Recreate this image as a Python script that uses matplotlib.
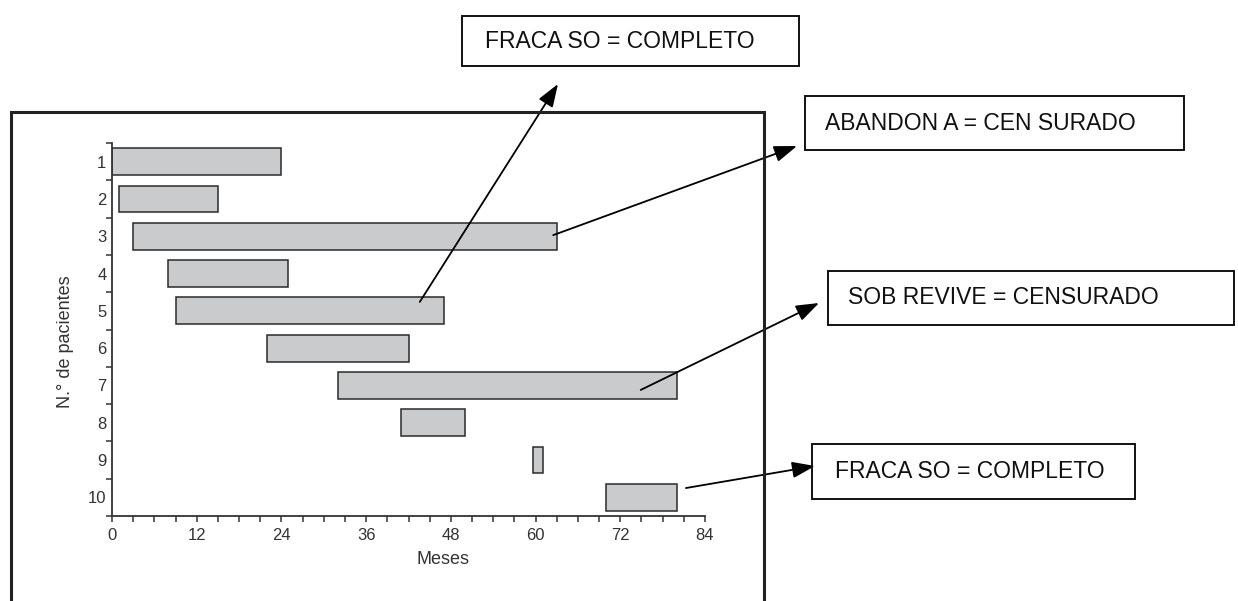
import matplotlib
matplotlib.use("Agg")
import matplotlib.pyplot as plt
from matplotlib.patches import Rectangle
import numpy as np

plt.rcParams['font.family'] = ['Liberation Sans', 'DejaVu Sans']

# ---- data ----
patients = [1, 2, 3, 4, 5, 6, 7, 8, 9, 10]
start_month = [0, 1, 3, 8, 9, 22, 32, 41, 59.7, 70]
end_month = [24, 15, 63, 25, 47, 42, 80, 50, 61, 80]
x_ticks = [0, 12, 24, 36, 48, 60, 72, 84]
x_label = "Meses"
y_label = "N.° de pacientes"

box_texts = ["FRACA SO = COMPLETO", "ABANDON A = CEN SURADO",
             "SOB REVIVE = CENSURADO", "FRACA SO = COMPLETO"]
# arrow start points in data coordinates (month, patient row)
arrow_from = [(43.6, 4.76), (62.5, 2.97), (74.9, 7.12), (81.3, 9.75)]

# ---- layout (pixels) ----
W, H = 1238, 601
def P(x, y):
    return (x / W, 1 - y / H)

fig = plt.figure(figsize=(W / 100, H / 100), dpi=100)
ax = fig.add_axes([112 / W, 1 - 516 / H, (705 - 112) / W, (516 - 143) / H])

widths = [e - s for s, e in zip(start_month, end_month)]
ax.barh(patients, widths, left=start_month, height=0.72,
        color='#c9cbcd', edgecolor='#2a2a2a', linewidth=1.1, zorder=2)

ax.set_xlim(0, 84)
ax.set_ylim(10.5, 0.5)
ax.set_xticks(x_ticks)
ax.set_xticks(np.arange(0, 85, 3), minor=True)
ax.set_yticks(patients)
ax.set_yticks(np.arange(0.5, 11, 1), minor=True)

for s in ['top', 'right']:
    ax.spines[s].set_visible(False)
for s in ['left', 'bottom']:
    ax.spines[s].set_color('#333333')
    ax.spines[s].set_linewidth(1.3)

ax.tick_params(axis='x', which='both', direction='out', length=4.5, width=1.1,
               color='#333333', labelsize=12, labelcolor='#333333', pad=4)
ax.tick_params(axis='y', which='major', length=0, labelsize=12,
               labelcolor='#333333', pad=4)
ax.tick_params(axis='y', which='minor', direction='out', length=4.3, width=1.1,
               color='#333333')

ax.set_xlabel(x_label, fontsize=13, color='#333333')
ax.xaxis.set_label_coords((443 - 112) / 593, -(551 - 516) / 373)
ax.set_ylabel(y_label, fontsize=13, color='#333333')
ax.yaxis.set_label_coords((74 - 112) / 593, 1 - (342 - 143) / 373)

# ---- outer frame ----
fig.patches.append(Rectangle(P(11, 700), (764 - 11) / W, (700 - 112) / H,
                             transform=fig.transFigure, fill=False,
                             edgecolor='#222222', linewidth=2.2))

# ---- annotation boxes ----
boxes = [(462, 16, 799, 66, 485), (805, 96, 1184, 150, 825),
         (828, 271, 1234, 325, 848), (812, 444, 1135, 499, 835)]
tips = [(558, 84), (797, 146), (819, 303), (815, 466)]

for (x0, y0, x1, y1, tx), txt in zip(boxes, box_texts):
    fig.patches.append(Rectangle(P(x0, y1), (x1 - x0) / W, (y1 - y0) / H,
                                 transform=fig.transFigure, fill=False,
                                 edgecolor='#111111', linewidth=1.4))
    fig.text(*P(tx, (y0 + y1) / 2), txt, ha='left', va='center',
             fontsize=16.5, color='#111111')

for src, tip in zip(arrow_from, tips):
    ax.annotate('', xy=P(*tip), xycoords='figure fraction',
                xytext=src, textcoords='data',
                arrowprops=dict(arrowstyle='-|>,head_length=0.7,head_width=0.25',
                                mutation_scale=20, color='black', lw=1.3,
                                shrinkA=0, shrinkB=0),
                annotation_clip=False, zorder=5)

fig.savefig('out.png', dpi=100)
